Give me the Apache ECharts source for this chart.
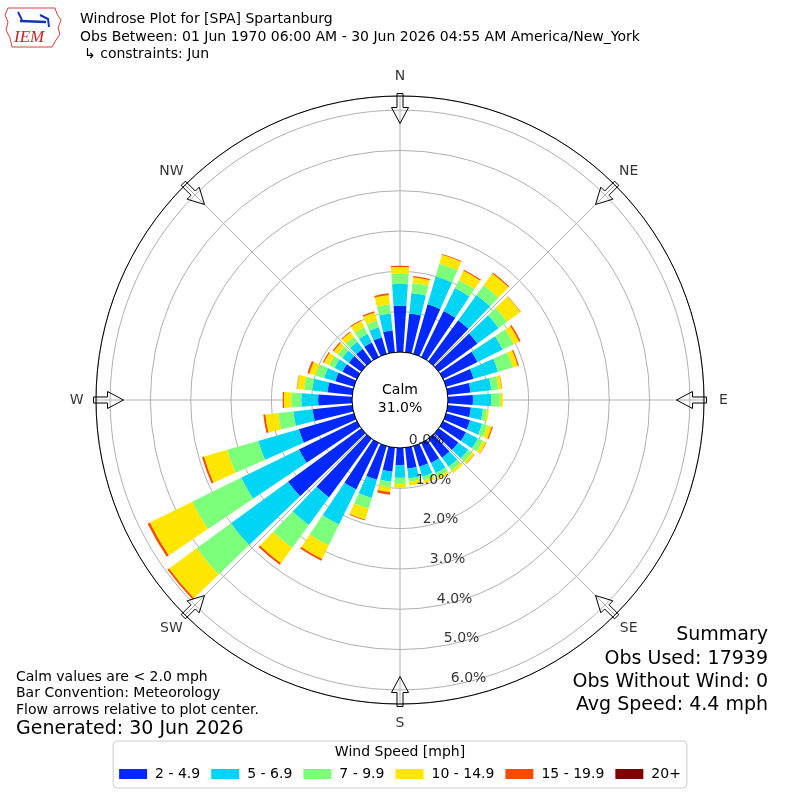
<!DOCTYPE html>
<html><head><meta charset="utf-8">
<script src="https://cdn.jsdelivr.net/npm/echarts@6/dist/echarts.min.js"></script>
<style>html,body{margin:0;padding:0;background:#fff}#c{width:800px;height:800px}</style>
</head><body><div id="c"></div>
<script>
// ---- data ----
const directions = [0,10,20,30,40,50,60,70,80,90,100,110,120,130,140,150,160,170,180,190,200,210,220,230,240,250,260,270,280,290,300,310,320,330,340,350];
const speedBins = ['2 - 4.9','5 - 6.9','7 - 9.9','10 - 14.9','15 - 19.9','20+'];
const binColors = ['#0028ff','#00d5f5','#7cff7a','#ffe600','#ff4a00','#800000'];
// percent of observations per direction (0..350 by 10)
const bin2to5   = [1.15,0.97,1.28,1.27,1.26,1.19,0.95,0.71,0.57,0.62,0.58,0.62,0.63,0.60,0.58,0.55,0.53,0.52,0.43,0.60,0.87,1.28,1.80,2.25,1.60,1.42,0.99,0.84,0.62,0.48,0.40,0.38,0.38,0.40,0.43,0.55];
const bin5to7   = [0.54,0.51,0.72,0.63,0.77,0.65,0.70,0.63,0.52,0.45,0.30,0.31,0.33,0.30,0.28,0.28,0.26,0.25,0.31,0.25,0.47,0.97,0.85,1.75,1.60,1.05,0.48,0.42,0.38,0.29,0.22,0.20,0.22,0.24,0.26,0.42];
const bin7to10  = [0.25,0.25,0.33,0.22,0.30,0.26,0.30,0.38,0.18,0.22,0.10,0.13,0.14,0.12,0.12,0.10,0.10,0.08,0.15,0.13,0.28,0.58,0.70,1.05,1.35,0.80,0.38,0.25,0.20,0.22,0.15,0.14,0.15,0.18,0.17,0.23];
const bin10to15 = [0.17,0.14,0.23,0.26,0.36,0.41,0.15,0.13,0.08,0.07,0.05,0.12,0.09,0.07,0.07,0.07,0.07,0.09,0.10,0.13,0.28,0.37,0.47,0.85,1.17,0.60,0.32,0.18,0.18,0.16,0.14,0.13,0.14,0.18,0.21,0.23];
const bin15to20 = [0.03,0.03,0.02,0.03,0.03,0.01,0.04,0.03,0.01,0.00,0.00,0.03,0.01,0.01,0.00,0.00,0.00,0.00,0.00,0.06,0.02,0.05,0.05,0.05,0.06,0.05,0.05,0.03,0.01,0.05,0.03,0.03,0.02,0.02,0.03,0.04];
const bin20plus = [0,0,0,0,0,0,0,0,0,0,0,0,0,0,0,0,0,0,0,0,0,0,0,0,0,0,0,0,0,0,0,0,0,0,0,0];
const binData = [bin2to5, bin5to7, bin7to10, bin10to15, bin15to20, bin20plus];
const compassAngles = [0,45,90,135,180,225,270,315];
const compassNames = ['N','NE','E','SE','S','SW','W','NW'];
const radialTicks = [0,1,2,3,4,5,6];
const radialLabelAngle = 170;
const calmPct = 31.0;
const RMAX = 6.35;
const RLABEL = 6.83;

const FONT = '"DejaVu Sans", "Liberation Sans", sans-serif';
const CENTER = [400, 400];
const RADII = [48, 304];

const chart = echarts.init(document.getElementById('c'), null, {renderer: 'canvas'});

const barSeries = speedBins.map((name, i) => ({
  type: 'bar', name, coordinateSystem: 'polar', polarIndex: 1, stack: 'wind',
  data: binData[i], itemStyle: {color: binColors[i]}, barCategoryGap: '22%',
  emphasis: {disabled: true}, z: 2
}));

const option = {
  animation: false,
  backgroundColor: '#ffffff',
  polar: [
    {center: CENTER, radius: RADII},
    {center: CENTER, radius: RADII},
    {center: CENTER, radius: RADII}
  ],
  angleAxis: [
    {polarIndex: 0, type: 'value', min: 0, max: 360, interval: 45, startAngle: 90, clockwise: true,
     axisLine: {show: false}, axisTick: {show: false}, axisLabel: {show: false},
     splitLine: {show: true, lineStyle: {color: '#b0b0b0', width: 1}}, z: 0},
    {polarIndex: 1, type: 'category', data: directions.map(String), startAngle: 95, clockwise: true,
     axisLine: {show: false}, axisTick: {show: false}, axisLabel: {show: false}, splitLine: {show: false}},
    {polarIndex: 2, type: 'value', min: 0, max: 360, startAngle: 90, clockwise: true,
     axisLine: {show: true, lineStyle: {color: '#000', width: 1}}, axisTick: {show: false},
     axisLabel: {show: false}, splitLine: {show: false}, z: 5}
  ],
  radiusAxis: [
    {polarIndex: 0, type: 'value', min: 0, max: RMAX, interval: 1,
     axisLine: {show: false}, axisTick: {show: false}, axisLabel: {show: false},
     splitLine: {show: true, lineStyle: {color: '#b0b0b0', width: 1}}},
    {polarIndex: 1, type: 'value', min: 0, max: RMAX,
     axisLine: {show: false}, axisTick: {show: false}, axisLabel: {show: false}, splitLine: {show: false}},
    {polarIndex: 2, type: 'value', min: 0, max: RMAX,
     axisLine: {show: false}, axisTick: {show: false}, axisLabel: {show: false}, splitLine: {show: false}}
  ],
  legend: {
    data: speedBins, left: 'center', top: 741, orient: 'horizontal',
    padding: [26, 6, 7, 6], borderColor: '#cccccc', borderWidth: 1, borderRadius: 4,
    itemWidth: 28, itemHeight: 10, itemGap: 11, icon: 'rect', selectedMode: false,
    textStyle: {fontSize: 14, fontFamily: FONT, color: '#000', padding: [0, 0, 0, 3]}
  },
  series: [
    ...barSeries,
    {
      type: 'scatter', coordinateSystem: 'polar', polarIndex: 0, silent: true, clip: false,
      data: radialTicks.map(v => [v, radialLabelAngle]),
      symbolSize: 1, itemStyle: {color: 'rgba(0,0,0,0)'},
      label: {show: true, position: 'right', distance: 0, offset: [0, -7], color: '#000',
        fontSize: 14, fontFamily: FONT, formatter: p => p.value[0].toFixed(1) + '%'},
      z: 4
    },
    {
      type: 'scatter', coordinateSystem: 'polar', polarIndex: 0, silent: true, clip: false,
      data: compassAngles.map((a, i) => ({value: [RLABEL, a], name: compassNames[i]})),
      symbolSize: 2, itemStyle: {color: 'rgba(0,0,0,0)'},
      label: {show: true, position: 'inside', color: '#000', fontSize: 14, fontFamily: FONT,
        formatter: p => p.name},
      labelLayout: {hideOverlap: false},
      z: 4
    },
    {
      type: 'custom', coordinateSystem: 'polar', polarIndex: 0, silent: true, clip: false,
      data: compassAngles.map(a => [RMAX, a]),
      renderItem: (params, api) => {
        const ang = api.value(1);
        const pOut = api.coord([RMAX, ang]);
        const pIn = api.coord([0, ang]);
        let dx = pIn[0] - pOut[0], dy = pIn[1] - pOut[1];
        const len = Math.hypot(dx, dy); const ux = dx / len, uy = dy / len;
        const px = -uy, py = ux;
        const tail = [pOut[0] - ux * 2.5, pOut[1] - uy * 2.5];
        const at = (d, w) => [tail[0] + ux * d + px * w, tail[1] + uy * d + py * w];
        const pts = [at(0, -3), at(14, -3), at(14, -8.5), at(30, 0), at(14, 8.5), at(14, 3), at(0, 3)];
        return {type: 'polygon', shape: {points: pts},
          style: {fill: 'rgba(0,0,0,0)', stroke: '#000', lineWidth: 1}, z2: 10};
      },
      z: 6
    }
  ],
  graphic: [
    // logo (approximate)
    {type: 'polygon', shape: {points: [[8,8],[55,8],[57,14],[61,20],[58,28],[60,34],[56,40],[52,47],[12,47],[10,38],[6,30],[8,22],[5,15]]},
     style: {fill: 'none', stroke: '#d04040', lineWidth: 1}},
    {type: 'polyline', shape: {points: [[20,21],[46,22]]}, style: {stroke: '#1030c0', lineWidth: 2.5}},
    {type: 'polyline', shape: {points: [[18,12],[22,20]]}, style: {stroke: '#1030c0', lineWidth: 2}},
    {type: 'polyline', shape: {points: [[40,15],[48,19],[49,27]]}, style: {stroke: '#1030c0', lineWidth: 2}},
    {type: 'text', x: 14, y: 38, style: {text: 'IEM', font: 'italic 17px "Liberation Serif", serif', fill: '#d02020', verticalAlign: 'middle'}},
    // titles
    {type: 'text', x: 80, y: 19, style: {text: 'Windrose Plot for [SPA] Spartanburg', font: '14px ' + FONT, fill: '#000', verticalAlign: 'middle'}},
    {type: 'text', x: 80, y: 37, style: {text: 'Obs Between: 01 Jun 1970 06:00 AM - 30 Jun 2026 04:55 AM America/New_York', font: '14px ' + FONT, fill: '#000', verticalAlign: 'middle'}},
    {type: 'text', x: 84, y: 54, style: {text: '\u21b3 constraints: Jun', font: '14px ' + FONT, fill: '#000', verticalAlign: 'middle'}},
    // calm
    {type: 'text', x: 400, y: 390, style: {text: 'Calm', font: '14px ' + FONT, fill: '#000', align: 'center', verticalAlign: 'middle'}, z: 10},
    {type: 'text', x: 400, y: 408, style: {text: calmPct.toFixed(1) + '%', font: '14px ' + FONT, fill: '#000', align: 'center', verticalAlign: 'middle'}, z: 10},
    // bottom left notes
    {type: 'text', x: 16, y: 677, style: {text: 'Calm values are < 2.0 mph', font: '14px ' + FONT, fill: '#000', verticalAlign: 'middle'}},
    {type: 'text', x: 16, y: 693, style: {text: 'Bar Convention: Meteorology', font: '14px ' + FONT, fill: '#000', verticalAlign: 'middle'}},
    {type: 'text', x: 16, y: 710, style: {text: 'Flow arrows relative to plot center.', font: '14px ' + FONT, fill: '#000', verticalAlign: 'middle'}},
    {type: 'text', x: 16, y: 729, style: {text: 'Generated: 30 Jun 2026', font: '19px ' + FONT, fill: '#000', verticalAlign: 'middle'}},
    // summary
    {type: 'text', x: 768, y: 635, style: {text: 'Summary', font: '19px ' + FONT, fill: '#000', align: 'right', verticalAlign: 'middle'}},
    {type: 'text', x: 768, y: 659, style: {text: 'Obs Used: 17939', font: '19px ' + FONT, fill: '#000', align: 'right', verticalAlign: 'middle'}},
    {type: 'text', x: 768, y: 682, style: {text: 'Obs Without Wind: 0', font: '19px ' + FONT, fill: '#000', align: 'right', verticalAlign: 'middle'}},
    {type: 'text', x: 768, y: 705, style: {text: 'Avg Speed: 4.4 mph', font: '19px ' + FONT, fill: '#000', align: 'right', verticalAlign: 'middle'}},
    // legend title
    {type: 'text', x: 400, y: 752, style: {text: 'Wind Speed [mph]', font: '14px ' + FONT, fill: '#000', align: 'center', verticalAlign: 'middle'}, z: 10}
  ]
};
chart.setOption(option);
</script>
</body></html>
